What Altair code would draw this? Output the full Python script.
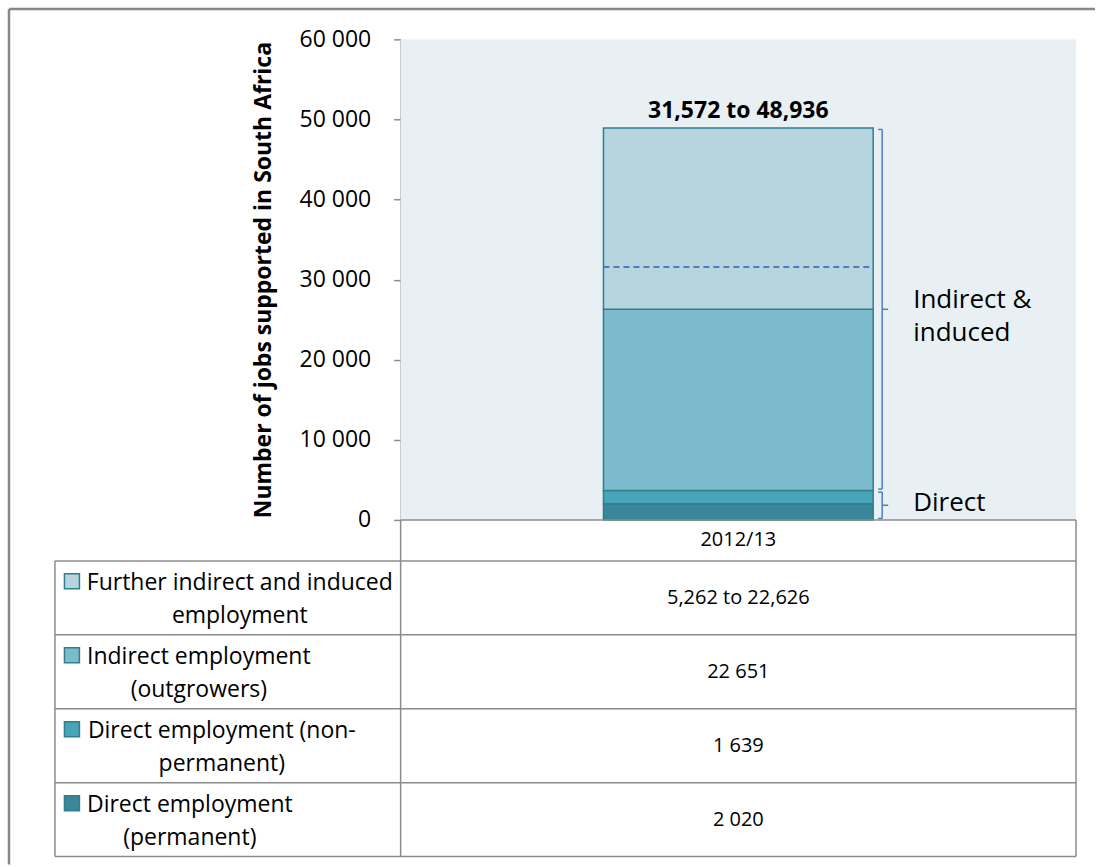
import altair as alt
import pandas as pd

# ---------------- data ----------------
categories = ["2012/13"]
series = [
    "Direct employment (permanent)",
    "Direct employment (non-permanent)",
    "Indirect employment (outgrowers)",
    "Further indirect and induced employment",
]
values = [2020, 1639, 22651, 22626]      # last = upper estimate
further_low = 5262                         # lower estimate of the last series
table_texts = ["2 020", "1 639", "22 651", "5,262 to 22,626"]
legend_texts = [
    "Direct employment\n(permanent)",
    "Direct employment (non-\npermanent)",
    "Indirect employment\n(outgrowers)",
    "Further indirect and induced\nemployment",
]
brace_groups = ["Direct", "Indirect &\ninduced"]
y_ticks = [0, 10000, 20000, 30000, 40000, 50000, 60000]
y_title = "Number of jobs supported in South Africa"

# ---------------- styles / layout ----------------
colors = ["#3b8799", "#47a4b9", "#7ebacd", "#b7d5df"]
BAR_STROKE = "#2f7f8e"
BG = "#e8f0f4"
BRACE = "#4a7ec4"
GRID_GRAY = "#8c8c8c"
FONT = "Open Sans"

W = 676            # plot width
H_PLOT = 481       # height of the 0..60000 range
HEADER_H = 41
ROW_H = 74
TOTAL_H = H_PLOT + HEADER_H + 4 * ROW_H
TABLE_LEFT = -346
FRAME_X = -392
FRAME_Y = -30.5
FRAME_RIGHT = 695
FRAME_BOTTOM = 826
LEGEND_TEXT_CX = [-161, -202, -179, -211]   # by table row (top to bottom)
SWATCH_X = -329
LINE_H = 33

cat = categories[0]

# ---------------- derived tables ----------------
rows = []
cum = 0
for s, v in zip(series, values):
    rows.append(dict(cat=cat, series=s, start=cum, end=cum + v))
    cum += v
seg = pd.DataFrame(rows)
total_high = cum
total_low = sum(values[:3]) + further_low

direct_end = values[0] + values[1]
braces = pd.DataFrame(dict(cat=[cat, cat], label=brace_groups,
                           start=[0, direct_end], end=[direct_end, total_high]))
braces["mid"] = (braces["start"] + braces["end"]) / 2

dash_df = pd.DataFrame(dict(cat=[cat], y=[total_low]))
top_df = pd.DataFrame(dict(cat=[cat], y=[total_high],
                           text=[f"{total_low:,} to {total_high:,}"]))
bg_df = pd.DataFrame(dict(y0=[y_ticks[0]], y1=[y_ticks[-1]]))

# table rows top->bottom are the series reversed
tbl = pd.DataFrame(dict(
    cat=[cat] * 4,
    series=series[::-1],
    legend=legend_texts[::-1],
    value=table_texts[::-1],
))
tbl["py"] = [H_PLOT + HEADER_H + ROW_H * (i + 0.5) for i in range(4)]
tbl["lx"] = LEGEND_TEXT_CX
tbl["sx"] = SWATCH_X
tbl["sy"] = tbl["py"] - LINE_H / 2

# table grid lines (pixel layout)
lines = []
lines.append(dict(x=0, x2=0, y=H_PLOT, y2=TOTAL_H))
lines.append(dict(x=W, x2=W, y=H_PLOT, y2=TOTAL_H))
lines.append(dict(x=TABLE_LEFT, x2=TABLE_LEFT, y=H_PLOT + HEADER_H, y2=TOTAL_H))
lines.append(dict(x=0, x2=W, y=H_PLOT, y2=H_PLOT))
for i in range(5):
    yy = H_PLOT + HEADER_H + ROW_H * i
    lines.append(dict(x=TABLE_LEFT, x2=W, y=yy, y2=yy))
lines_df = pd.DataFrame(lines)
frame_df = pd.DataFrame([
    dict(x=FRAME_X, x2=FRAME_RIGHT, y=FRAME_Y, y2=FRAME_Y),
    dict(x=FRAME_X, x2=FRAME_X, y=FRAME_Y, y2=FRAME_BOTTOM),
])

# ---------------- scales ----------------
ys = alt.Scale(domain=[y_ticks[0], y_ticks[-1]], range=[H_PLOT, 0], nice=False, zero=False)
xs = alt.Scale(domain=categories, paddingInner=0, paddingOuter=0.752)
col = alt.Scale(domain=series, range=colors)

bg = alt.Chart(bg_df).mark_rect(color=BG).encode(
    x=alt.value(0), x2=alt.value("width"),
    y=alt.Y("y0:Q", scale=ys, axis=None), y2="y1:Q",
)

bars = alt.Chart(seg).mark_bar(stroke=BAR_STROKE, strokeWidth=1.5).encode(
    x=alt.X("cat:N", scale=xs, axis=None),
    y=alt.Y("start:Q", scale=ys, title=y_title, axis=alt.Axis(
        values=y_ticks, grid=False,
        labelExpr="replace(format(datum.value, ','), ',', ' ')",
        labelFont=FONT, labelFontSize=23, labelColor="#000000", labelPadding=23,
        domainColor=GRID_GRAY, domainWidth=1.5, tickColor=GRID_GRAY, tickWidth=1.5, tickSize=7,
        titleFont=FONT, titleFontSize=23, titleFontWeight="bold", titleColor="#000000",
        titlePadding=24,
    )),
    y2="end:Q",
    color=alt.Color("series:N", scale=col, legend=None),
)

dash = alt.Chart(dash_df).mark_rule(color=BRACE, strokeWidth=2, strokeDash=[6, 4]).encode(
    x=alt.X("cat:N", scale=xs, axis=None, bandPosition=0),
    x2=alt.X2("cat", bandPosition=1),
    y=alt.Y("y:Q", scale=ys, axis=None),
)

bx = alt.X("cat:N", scale=xs, axis=None, bandPosition=1)
brace_v = alt.Chart(braces).mark_rule(color=BRACE, strokeWidth=1.5, xOffset=9, yOffset=-1.5, y2Offset=1.5).encode(
    x=bx, y=alt.Y("start:Q", scale=ys, axis=None), y2="end:Q")
brace_top = alt.Chart(braces).mark_rule(color=BRACE, strokeWidth=1.5, xOffset=5, x2Offset=9, yOffset=1.5).encode(
    x=bx, x2=alt.X2("cat", bandPosition=1), y=alt.Y("end:Q", scale=ys, axis=None))
brace_bot = alt.Chart(braces).mark_rule(color=BRACE, strokeWidth=1.5, xOffset=5, x2Offset=9, yOffset=-1.5).encode(
    x=bx, x2=alt.X2("cat", bandPosition=1), y=alt.Y("start:Q", scale=ys, axis=None))
brace_mid = alt.Chart(braces).mark_rule(color=BRACE, strokeWidth=1.5, xOffset=9, x2Offset=15).encode(
    x=bx, x2=alt.X2("cat", bandPosition=1), y=alt.Y("mid:Q", scale=ys, axis=None))

lbl_enc = dict(x=alt.X("cat:N", scale=xs, axis=None),
               y=alt.Y("mid:Q", scale=ys, axis=None), text="label:N")
brace_lbl_multi = alt.Chart(braces).transform_filter(
    "indexof(datum.label, '\\n') >= 0"
).mark_text(align="left", baseline="middle", xOffset=175, dy=-9, lineBreak="\n",
            font=FONT, fontSize=26, color="#000000", lineHeight=LINE_H).encode(**lbl_enc)
brace_lbl_single = alt.Chart(braces).transform_filter(
    "indexof(datum.label, '\\n') < 0"
).mark_text(align="left", baseline="middle", xOffset=175, dy=-2,
            font=FONT, fontSize=26, color="#000000").encode(**lbl_enc)

top_lbl = alt.Chart(top_df).mark_text(baseline="alphabetic", dy=-10, font=FONT, fontSize=23,
                                      fontWeight="bold", color="#000000").encode(
    x=alt.X("cat:N", scale=xs, axis=None), y=alt.Y("y:Q", scale=ys, axis=None), text="text:N")

grid_lines = alt.Chart(lines_df).mark_rule(color=GRID_GRAY, strokeWidth=1.5).encode(
    x=alt.X("x:Q", scale=None), x2="x2:Q", y=alt.Y("y:Q", scale=None), y2="y2:Q")
frame = alt.Chart(frame_df).mark_rule(color="#888888", strokeWidth=2.5).encode(
    x=alt.X("x:Q", scale=None), x2="x2:Q", y=alt.Y("y:Q", scale=None), y2="y2:Q")

header = alt.Chart(pd.DataFrame(dict(cat=categories))).mark_text(
    baseline="middle", font=FONT, fontSize=20, color="#000000").encode(
    x=alt.X("cat:N", scale=xs, axis=None), y=alt.value(H_PLOT + HEADER_H / 2), text="cat:N")

val_txt = alt.Chart(tbl).mark_text(baseline="middle", font=FONT, fontSize=20, color="#000000").encode(
    x=alt.X("cat:N", scale=xs, axis=None), y=alt.Y("py:Q", scale=None), text="value:N")

leg_txt = alt.Chart(tbl).mark_text(baseline="middle", align="center", lineBreak="\n",
                                   lineHeight=LINE_H, dy=-LINE_H / 2 + 2,
                                   font=FONT, fontSize=23, color="#000000").encode(
    x=alt.X("lx:Q", scale=None), y=alt.Y("py:Q", scale=None), text="legend:N")

swatch = alt.Chart(tbl).mark_square(size=225, opacity=1, stroke=BAR_STROKE, strokeWidth=1.5).encode(
    x=alt.X("sx:Q", scale=None), y=alt.Y("sy:Q", scale=None),
    color=alt.Color("series:N", scale=col, legend=None),
)

chart = alt.layer(
    bg, bars, dash, brace_v, brace_top, brace_bot, brace_mid,
    brace_lbl_multi, brace_lbl_single, top_lbl,
    grid_lines, frame, header, val_txt, leg_txt, swatch,
).resolve_scale(
    x="independent", y="independent"
).properties(
    width=W, height=TOTAL_H,
    padding={"left": 7, "top": 7, "right": 0, "bottom": 0},
    background="white",
).configure_view(stroke=None)

chart.save("out.html", embed_options={"renderer": "svg", "actions": False})
